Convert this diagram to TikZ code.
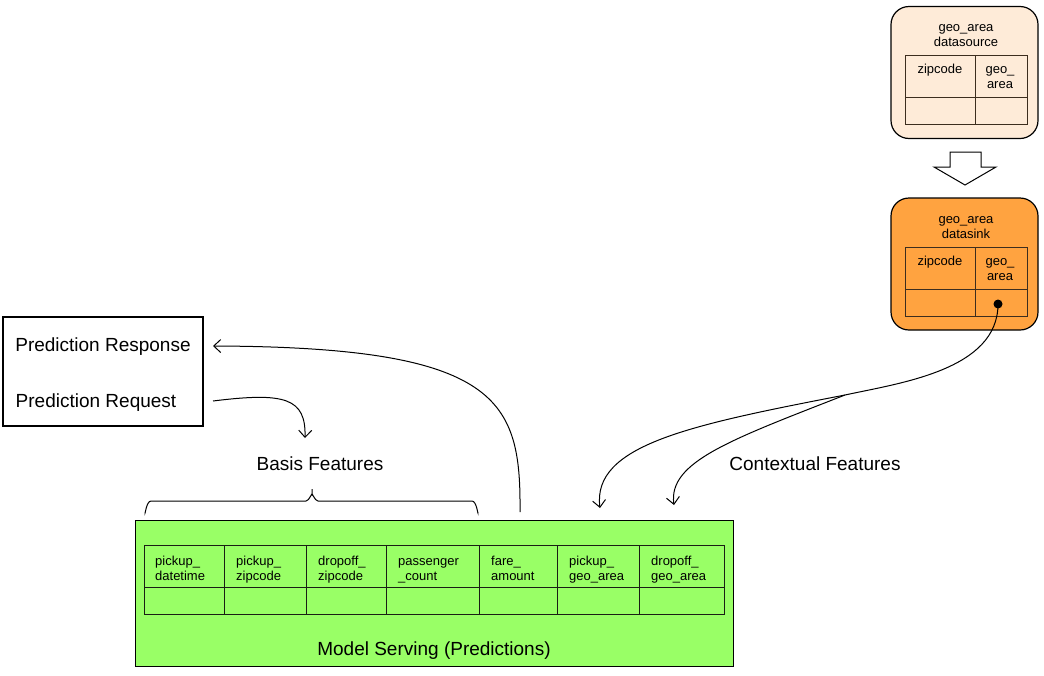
\documentclass[tikz,border=0pt]{standalone}
\usepackage{fontspec}
\setmainfont{Liberation Sans}
\usetikzlibrary{arrows.meta}
\definecolor{peach}{RGB}{254,235,216}
\definecolor{sinkor}{RGB}{255,163,64}
\definecolor{msgreen}{RGB}{153,255,102}
\definecolor{tblline}{RGB}{60,45,30}
\definecolor{mstbl}{RGB}{25,30,20}
\begin{document}
\begin{tikzpicture}[x=1pt,y=-1pt,
  big/.style={font=\fontsize{19}{22}\selectfont, inner sep=0},
  small/.style={font=\fontsize{13}{15}\selectfont, inner sep=0},
  dbox/.style={draw=black, line width=1.2pt, rounded corners=18pt, minimum width=147pt, minimum height=132pt, inner sep=0},
  tbl/.style={draw=tblline, line width=1pt},
  mtbl/.style={draw=mstbl, line width=1pt},
  arr/.style={line width=1pt, -{Straight Barb[length=7pt,width=13pt]}},
  cell/.style={small, anchor=north west, align=left},
]
\useasboundingbox (0,0) rectangle (1044,675);

% datasource
\node[dbox, fill=peach] (src) at (964.5,72.5) {};
\node[small, align=center] (srct) at (966,36) {geo\_area\\datasource};
\draw[tbl] (905,55) rectangle (1027,124);
\draw[tbl] (975,55) -- (975,124);
\draw[tbl] (905,97) -- (1027,97);
\node[small, anchor=north, align=center] (srczip) at (940,63) {\strut zipcode};
\node[small, anchor=north, align=center] (srcgeo) at (1000,63) {\strut geo\_\\area};

% hollow arrow
\draw[line width=1pt, fill=white] (950,152) -- (981,152) -- (981,167) -- (996,167) -- (965,185) -- (934,167) -- (950,167) -- cycle;

% datasink
\node[dbox, fill=sinkor] (sink) at (964.5,264) {};
\node[small, align=center] (sinkt) at (966,227.5) {geo\_area\\datasink};
\draw[tbl] (905,247) rectangle (1027,316);
\draw[tbl] (975,247) -- (975,316);
\draw[tbl] (905,289) -- (1027,289);
\node[small, anchor=north, align=center] (sinkzip) at (940,255) {\strut zipcode};
\node[small, anchor=north, align=center] (sinkgeo) at (1000,255) {\strut geo\_\\area};
\node[circle, fill=black, inner sep=0, minimum size=9pt] (dot) at (998,304) {};

% prediction box
\node[draw, line width=1.5pt, minimum width=200pt, minimum height=109pt, inner sep=0] (pbox) at (103,371.5) {};
\node[big] (resp) at (103,347) {Prediction Response};
\node[big] (req) at (96,403) {Prediction Request};

% labels
\node[big] (basis) at (320,464) {Basis Features};
\node[big] (ctx) at (815,464) {Contextual Features};

% model serving box
\node[draw, line width=1pt, fill=msgreen, minimum width=598pt, minimum height=146pt, inner sep=0] (ms) at (434,593) {};
\draw[mtbl] (144,545) rectangle (724,614);
\draw[mtbl] (144,587) -- (724,587);
\foreach \x in {224,306,386,479,557,639} \draw[mtbl] (\x,545) -- (\x,614);
\node[cell] (c1) at (155,555) {\strut pickup\_\\datetime};
\node[cell] (c2) at (236,555) {\strut pickup\_\\zipcode};
\node[cell] (c3) at (318,555) {\strut dropoff\_\\zipcode};
\node[cell] (c4) at (398,555) {\strut passenger\\\_count};
\node[cell] (c5) at (491,555) {\strut fare\_\\amount};
\node[cell] (c6) at (569,555) {\strut pickup\_\\geo\_area};
\node[cell] (c7) at (651,555) {\strut dropoff\_\\geo\_area};
\node[big] (mst) at (434,651) {Model Serving (Predictions)};

% brace
\draw[line width=1pt] (145,512) to[out=270,in=180] (151,501) -- (306,501) to[out=0,in=90] (312,495) -- (312,489);
\draw[line width=1pt] (312,495) to[out=90,in=180] (318,501) -- (472,501) to[out=0,in=270] (478,512);

% connectors
\coordinate (respstart) at (520,512);
\coordinate (respend) at (213,346);
\draw[arr] (respstart) .. controls (521,400) and (500,347) .. (respend);
\coordinate (reqstart) at (213,401);
\coordinate (reqend) at (305,438);
\draw[arr] (reqstart) .. controls (285,392) and (306,398) .. (reqend);

\coordinate (junc) at (845,395);
\coordinate (ctx1) at (600,508);
\coordinate (ctx2) at (674,505);
\draw[line width=1pt] (dot.center) .. controls (998,370) and (900,383) .. (junc);
\draw[arr] (junc) .. controls (690,425) and (592,445) .. (ctx1);
\draw[arr] (junc) .. controls (730,440) and (668,462) .. (ctx2);
\end{tikzpicture}
\end{document}
